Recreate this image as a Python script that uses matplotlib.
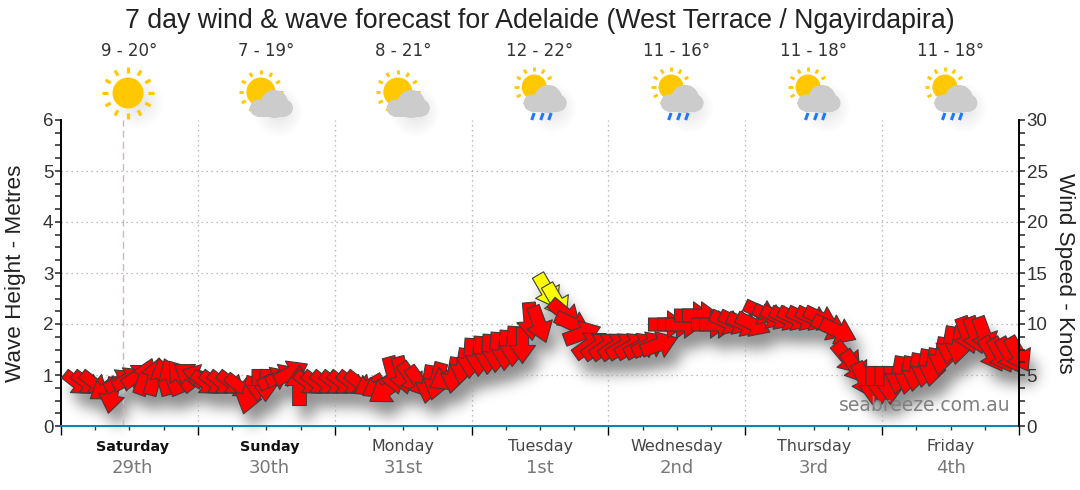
import numpy as np
import matplotlib
matplotlib.use('Agg')
import matplotlib.pyplot as plt
from matplotlib.markers import MarkerStyle
from matplotlib.path import Path
from matplotlib.patches import Circle, Rectangle
from matplotlib.transforms import Affine2D

title = '7 day wind & wave forecast for Adelaide (West Terrace / Ngayirdapira)'
days = ['Saturday', 'Sunday', 'Monday', 'Tuesday', 'Wednesday', 'Thursday', 'Friday']
dates = ['29th', '30th', '31st', '1st', '2nd', '3rd', '4th']
temps = ['9 - 20°', '7 - 19°', '8 - 21°', '12 - 22°', '11 - 16°', '11 - 18°', '11 - 18°']
icons = ['sun', 'cloud', 'cloud', 'rain', 'rain', 'rain', 'rain']
bold_days = ['Saturday', 'Sunday']
now_hour = 10.9

# one arrow every 1.5 hours
hours = [2.8 + 1.5 * i for i in range(111)]
wave_m = [.84, .84, .84, .72, .60, .90, .94, 1.0, .98, .98,
          .98, .98, 1.0, 1.02, 1.0, .84, .84, .84, .84, .78,
          .61, .80, .80, .95, 1.0, 1.05, .80, .84, .84, .84,
          .84, .84, .84, .84, .80, .76, .71, 1.0, 1.0, .94,
          .86, .82, .88, .94, 1.0, 1.18, 1.33, 1.37, 1.41, 1.45,
          1.49, 1.57, 1.59, 2.05, 2.0, 2.65, 2.45, 2.2, 2.0, 1.82,
          1.6, 1.58, 1.58, 1.58, 1.58, 1.58, 1.58, 1.6, 1.6, 2.0,
          2.0, 2.0, 2.18, 2.18, 2.0, 2.0, 2.04, 2.04, 2.0, 2.0,
          2.24, 2.16, 2.14, 2.12, 2.12, 2.12, 2.12, 2.12, 1.95, 1.86,
          1.33, 1.16, .9, .8, .8, .8, 1.0, 1.0, 1.06, 1.14,
          1.16, 1.37, 1.59, 1.59, 1.78, 1.78, 1.78, 1.41, 1.39, 1.39, 1.41]
heading = [128, 128, 128, 235, 190, 60, 60, 55, 20, 15,
           345, 338, 322, 305, 290, 128, 128, 128, 128, 128,
           195, 180, 180, 65, 65, 62, 0, 128, 128, 128,
           128, 128, 128, 128, 240, 240, 235, 165, 165, 145,
           145, 190, 195, 240, 190, 190, 184, 184, 184, 184,
           184, 184, 180, 175, 160, 150, 150, 130, 115, 70,
           55, 55, 55, 55, 58, 60, 62, 65, 70, 90,
           90, 90, 90, 90, 90, 90, 115, 115, 115, 115,
           115, 115, 115, 115, 115, 115, 115, 115, 115, 115,
           140, 145, 155, 180, 180, 180, 190, 190, 190, 190,
           190, 190, 190, 190, 160, 160, 160, 150, 150, 150, 150]
wind_kt = [16, 16, 16, 16, 18, 17, 17, 17, 19, 19,
           19, 19, 18, 17, 16, 16, 16, 16, 16, 16,
           19, 16, 16, 17, 17, 18, 20, 16, 16, 16,
           16, 16, 16, 16, 16, 16, 19, 19, 19, 18,
           18, 19, 19, 18, 18, 18, 20, 20, 20, 20,
           20, 20, 18, 19, 19, 19, 19, 19, 19, 19,
           19, 19, 19, 19, 19, 19, 19, 19, 19, 19,
           19, 19, 19, 19, 19, 19, 18, 18, 18, 18,
           18, 18, 18, 18, 18, 18, 18, 18, 19, 19,
           19, 19, 19, 19, 19, 19, 19, 19, 19, 19,
           19, 19, 19, 19, 19, 19, 19, 19, 19, 19, 19]
warning = [55, 56]

arrow = Path([(-.17, -.5), (.17, -.5), (.17, 0), (.36, 0), (0, .5),
              (-.36, 0), (-.17, 0), (-.17, -.5)], closed=True)


def arrow_marker(h):
    return MarkerStyle(arrow, transform=Affine2D().rotate_deg(-h))


def px(n):
    return n * 72 / 100


def gauss_blur(img, sigma):
    radius = int(3 * sigma)
    kernel = np.exp(-np.arange(-radius, radius + 1)**2 / (2 * sigma**2))
    kernel /= kernel.sum()
    img = np.apply_along_axis(lambda m: np.convolve(m, kernel, mode='same'), 0, img)
    return np.apply_along_axis(lambda m: np.convolve(m, kernel, mode='same'), 1, img)


fig = plt.figure(figsize=(10.8, 4.9), dpi=100)
ax_rect = [61 / 1080, 64 / 490, 958 / 1080, 306 / 490]
ax = fig.add_axes(ax_rect)
ax.set_xlim(0, 168)
ax.set_ylim(0, 6)
ax.patch.set_alpha(0)

overlay = fig.add_axes([0, 0, 1, 1], zorder=-1)
overlay.set_xlim(0, 1080)
overlay.set_ylim(490, 0)
overlay.axis('off')

# arrow shadow, from a blurred mask of the same arrows
fig_mask = plt.figure(figsize=(10.8, 4.9), dpi=100)
ax_mask = fig_mask.add_axes(ax_rect)
ax_mask.set_xlim(0, 168)
ax_mask.set_ylim(0, 6)
ax_mask.axis('off')
for t, w, h, k in zip(hours, wave_m, heading, wind_kt):
    ax_mask.plot(t, w, marker=arrow_marker(h), ms=px(k * 2), color='black', mew=0, clip_on=False)
fig_mask.canvas.draw()
mask = 1 - np.asarray(fig_mask.canvas.buffer_rgba())[:, :, 0] / 255
plt.close(fig_mask)
shadow = gauss_blur(np.roll(np.roll(mask, 14, axis=0), 7, axis=1), 7)
rgba = np.zeros(shadow.shape + (4,))
rgba[:, :, 3] = np.clip(shadow * .45, 0, 1)
overlay.imshow(rgba, extent=(0, 1080, 490, 0), aspect='auto', interpolation='bilinear', zorder=0)
overlay.set_xlim(0, 1080)
overlay.set_ylim(490, 0)

# axes
ax.set_xticks(np.arange(0, 169, 24))
ax.set_xticks(np.arange(0, 169, 6), minor=True)
ax.set_yticks(np.arange(0, 7))
ax.set_yticks(np.arange(0, 6.01, .25), minor=True)
ax.set_xticklabels([])
ax.grid(True, which='major', color='#a8a8a8', linestyle=(0, (1, 3)), linewidth=.9)
ax.set_axisbelow(True)
for g in [ax.yaxis.get_gridlines()[0], ax.yaxis.get_gridlines()[-1],
          ax.xaxis.get_gridlines()[0], ax.xaxis.get_gridlines()[-1]]:
    g.set_visible(False)
ax.tick_params(axis='x', which='major', length=6.5, width=1, color='black')
ax.tick_params(axis='x', which='minor', length=3, width=1, color='#333333')
ax.tick_params(axis='y', which='both', length=4, width=1.1, color='#222222',
               labelsize=13.5, labelcolor='#333333', pad=1.5)
for lab in ax.get_yticklabels():
    lab.set_fontfamily('Liberation Sans')
ax.spines['top'].set_visible(False)
ax.spines['right'].set_visible(False)
ax.spines['left'].set_linewidth(1.4)
ax.spines['bottom'].set_color('#0a7fb5')
ax.spines['bottom'].set_linewidth(1.4)
ax.set_ylabel('Wave Height - Metres', fontsize=16.2, family='Liberation Sans',
              color='#222222', labelpad=12)

ax2 = ax.twinx()
ax2.set_ylim(0, 30)
ax2.set_yticks(np.arange(0, 31, 5))
ax2.set_yticks(np.arange(0, 30.01, 1.25), minor=True)
ax2.patch.set_alpha(0)
for s in ['top', 'left', 'bottom']:
    ax2.spines[s].set_visible(False)
ax2.spines['right'].set_linewidth(1.4)
ax2.tick_params(axis='y', which='both', length=4, width=1.1, color='#222222',
                labelsize=13.5, labelcolor='#333333', pad=1.5)
for lab in ax2.get_yticklabels():
    lab.set_fontfamily('Liberation Sans')
ax2.set_ylabel('Wind Speed - Knots', fontsize=16.2, family='Liberation Sans', rotation=270,
               color='#222222', labelpad=20)

ax.axvline(now_hour, color='#d8b4b4', linestyle=(0, (5, 3)), linewidth=1, zorder=1)

# arrows
for i, (t, w, h, k) in enumerate(zip(hours, wave_m, heading, wind_kt)):
    col = '#ffff00' if i in warning else '#ff0000'
    ax.plot(t, w, marker=arrow_marker(h), ms=px(k * 2), mfc=col, mec='#3c3c3c', mew=.8,
            clip_on=False, zorder=3 + i * .001)

ax2.text(.991, .036, 'seabreeze.com.au', transform=ax.transAxes, ha='right', va='bottom',
         fontsize=13.5, color='#808080', family='DejaVu Sans', zorder=6)

# header and day labels
fig.text(540 / 1080, 1 - 21 / 490, title, ha='center', va='center', fontsize=19.3,
         family='Liberation Sans', color='#222222')
centres = [129.5 + 136.9 * i for i in range(7)]
for cx, d, n, tmp in zip(centres, days, dates, temps):
    fig.text((cx - .5) / 1080, 1 - 51 / 490, tmp, ha='center', va='center', fontsize=12, color='#333333')
    bold = d in bold_days
    shift = 3 if bold else 0
    fig.text((cx + shift) / 1080, 1 - 447 / 490, d, ha='center', va='center',
             fontsize=10.4 if bold else 11.4,
             color='#111111' if bold else '#444444', fontweight='bold' if bold else 'normal')
    fig.text((cx + 3 if bold else cx) / 1080, 1 - 468 / 490, n, ha='center', va='center',
             fontsize=13, color='#777777')


def blur(cx, cy, r):
    for k in range(8):
        overlay.add_patch(Circle((cx, cy), r * (1 - k / 9), color='black', alpha=.012, lw=0, zorder=1))


def sun(cx, cy, r, r0, r1, lw):
    for ang in np.arange(0, 360, 30):
        c, s = np.cos(np.radians(ang)), np.sin(np.radians(ang))
        overlay.plot([cx + r0 * c, cx + r1 * c], [cy + r0 * s, cy + r1 * s], color='#ffc800',
                     lw=lw, solid_capstyle='butt', zorder=2)
    overlay.add_patch(Circle((cx, cy), r, color='#ffc800', lw=0, zorder=2))


def cloud(cx, cy):
    for dx, dy, r in [(6, 1, 14), (-10, 5, 8.5), (16, 5, 8.5)]:
        overlay.add_patch(Circle((cx + dx, cy + dy), r, color='#cccccc', lw=0, zorder=3))
    overlay.add_patch(Rectangle((cx - 11, cy + 3), 28, 10.5, color='#cccccc', lw=0, zorder=3))


for cx, kind in zip(centres, icons):
    if kind == 'sun':
        blur(cx + 8, 102, 26)
        sun(cx - 1.5, 93, 15.5, 20, 26, 2.3)
    elif kind == 'cloud':
        blur(cx + 12, 112, 24)
        sun(cx - 5.5, 92, 14.5, 17.5, 22, 2.1)
        cloud(cx + 2, 103)
    else:
        blur(cx + 12, 108, 24)
        sun(cx - 6, 87, 12.5, 15.5, 20, 2)
        cloud(cx + 2, 98)
        for dx in [-7, 2, 10]:
            overlay.plot([cx + dx - 1.5, cx + dx + 1], [120, 113], color='#1e78ff', lw=2.2,
                         solid_capstyle='butt', zorder=3)

fig.savefig('out.png', dpi=100)
